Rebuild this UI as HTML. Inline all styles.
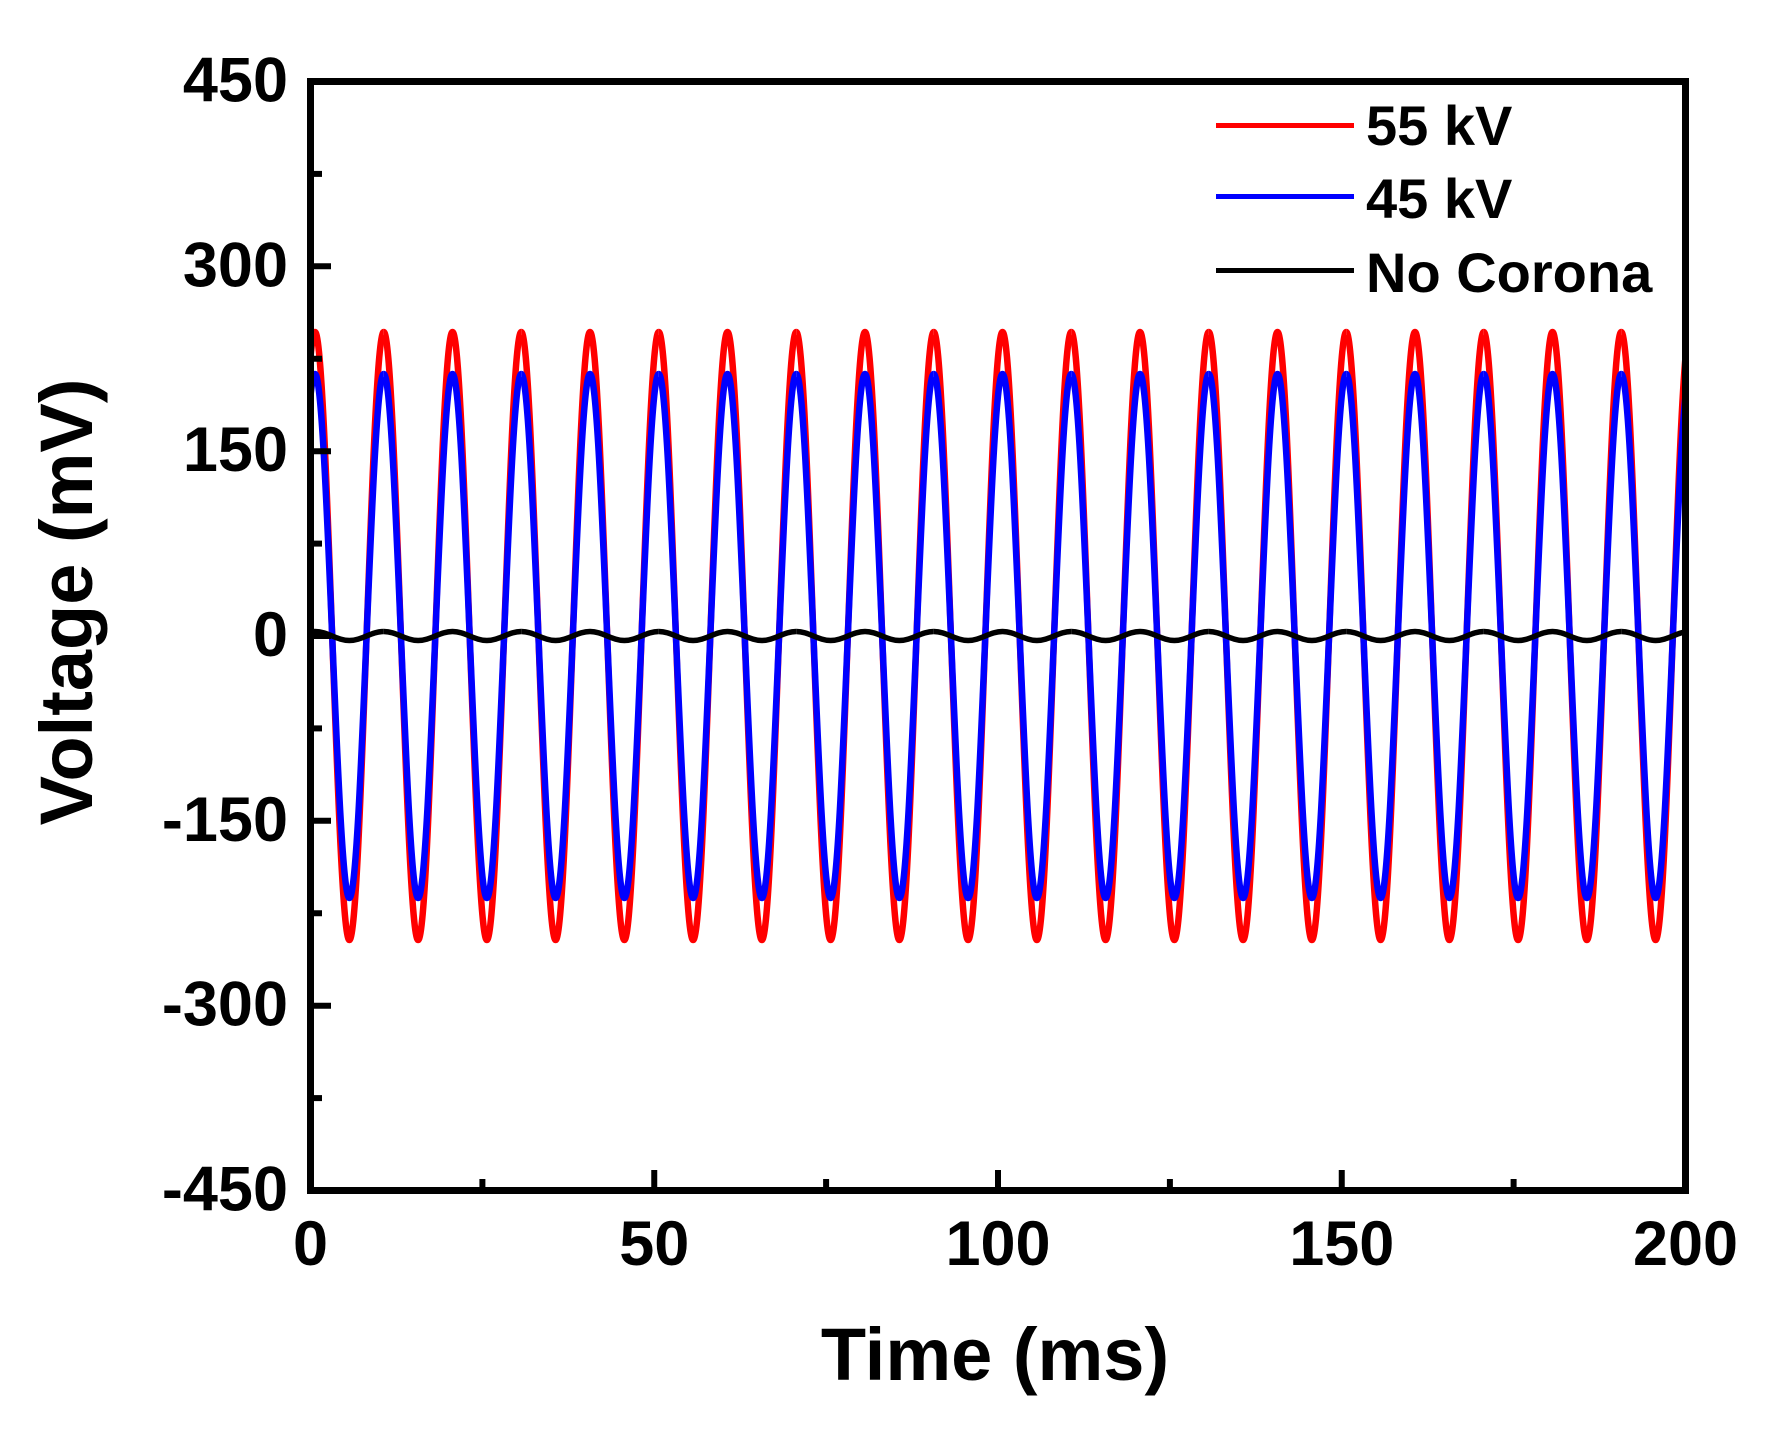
<!DOCTYPE html>
<html>
<head>
<meta charset="utf-8">
<style>
  html, body { margin: 0; padding: 0; background: #ffffff; }
  svg { display: block; }
  text { font-family: "Liberation Sans", Arial, sans-serif; font-weight: bold; fill: #000; }
</style>
</head>
<body>
<svg width="1785" height="1433" viewBox="0 0 1785 1433" xmlns="http://www.w3.org/2000/svg" xmlns:xlink="http://www.w3.org/1999/xlink">
  <rect x="0" y="0" width="1785" height="1433" fill="#ffffff"/>
  <defs>
    <clipPath id="clip">
      <rect x="310.5" y="81.5" width="1375" height="1109"/>
    </clipPath>
    <g id="p1" fill="none" stroke-linejoin="round">
      <path d="M0,332 c6.221,0 11.582,148.26 17.1875,304 c5.605,155.74 10.967,304 17.1875,304 c6.221,0 11.582,-148.26 17.1875,-304 c5.605,-155.74 10.967,-304 17.1875,-304" stroke="#ff0000" stroke-width="6.5"/>
      <path d="M0,374 c6.221,0 11.582,127.78 17.1875,262 c5.605,134.22 10.967,262 17.1875,262 c6.221,0 11.582,-127.78 17.1875,-262 c5.605,-134.22 10.967,-262 17.1875,-262" stroke="#0000ff" stroke-width="6.5"/>
      <path d="M0,631.5 c6.221,0 11.582,2.195 17.1875,4.5 c5.605,2.305 10.967,4.5 17.1875,4.5 c6.221,0 11.582,-2.195 17.1875,-4.5 c5.605,-2.305 10.967,-4.5 17.1875,-4.5" stroke="#000000" stroke-width="5.5"/>
    </g>
    <g id="p2"><use xlink:href="#p1" href="#p1"/><use xlink:href="#p1" href="#p1" x="68.75"/></g>
    <g id="p4"><use xlink:href="#p2" href="#p2"/><use xlink:href="#p2" href="#p2" x="137.5"/></g>
    <g id="p8"><use xlink:href="#p4" href="#p4"/><use xlink:href="#p4" href="#p4" x="275"/></g>
    <g id="p16"><use xlink:href="#p8" href="#p8"/><use xlink:href="#p8" href="#p8" x="550"/></g>
  </defs>

  <!-- data curves -->
  <g clip-path="url(#clip)">
    <g transform="translate(246.25,0)">
      <use xlink:href="#p16" href="#p16"/>
      <use xlink:href="#p4" href="#p4" x="1100"/>
      <use xlink:href="#p2" href="#p2" x="1375"/>
    </g>
  </g>

  <!-- frame -->
  <rect x="310.5" y="81.5" width="1375" height="1109" fill="none" stroke="#000" stroke-width="7"/>

  <!-- y ticks -->
  <g stroke="#000" stroke-width="6">
    <line x1="314" y1="266.3" x2="331" y2="266.3"/>
    <line x1="314" y1="451.2" x2="331" y2="451.2"/>
    <line x1="314" y1="636" x2="331" y2="636"/>
    <line x1="314" y1="820.8" x2="331" y2="820.8"/>
    <line x1="314" y1="1005.7" x2="331" y2="1005.7"/>
    <line x1="314" y1="173.9" x2="322" y2="173.9"/>
    <line x1="314" y1="358.75" x2="322" y2="358.75"/>
    <line x1="314" y1="543.6" x2="322" y2="543.6"/>
    <line x1="314" y1="728.4" x2="322" y2="728.4"/>
    <line x1="314" y1="913.25" x2="322" y2="913.25"/>
    <line x1="314" y1="1098.1" x2="322" y2="1098.1"/>
  </g>
  <!-- x ticks -->
  <g stroke="#000" stroke-width="6">
    <line x1="654.25" y1="1187" x2="654.25" y2="1170"/>
    <line x1="998" y1="1187" x2="998" y2="1170"/>
    <line x1="1341.75" y1="1187" x2="1341.75" y2="1170"/>
    <line x1="482.4" y1="1187" x2="482.4" y2="1179"/>
    <line x1="826.1" y1="1187" x2="826.1" y2="1179"/>
    <line x1="1169.9" y1="1187" x2="1169.9" y2="1179"/>
    <line x1="1513.6" y1="1187" x2="1513.6" y2="1179"/>
  </g>

  <!-- y tick labels -->
  <g font-size="63" text-anchor="end">
    <text x="288" y="101.5">450</text>
    <text x="288" y="286.3">300</text>
    <text x="288" y="471.2">150</text>
    <text x="288" y="656">0</text>
    <text x="288" y="840.8">-150</text>
    <text x="288" y="1025.7">-300</text>
    <text x="288" y="1210.5">-450</text>
  </g>
  <!-- x tick labels -->
  <g font-size="63" text-anchor="middle">
    <text x="310.5" y="1265">0</text>
    <text x="654.25" y="1265">50</text>
    <text x="998" y="1265">100</text>
    <text x="1341.75" y="1265">150</text>
    <text x="1685.5" y="1265">200</text>
  </g>

  <!-- axis titles -->
  <text x="995" y="1380" font-size="74" text-anchor="middle">Time (ms)</text>
  <text transform="translate(92,602) rotate(-90)" font-size="74" text-anchor="middle">Voltage (mV)</text>

  <!-- legend -->
  <g stroke-width="5">
    <line x1="1216" y1="125.5" x2="1354" y2="125.5" stroke="#ff0000"/>
    <line x1="1216" y1="196.5" x2="1354" y2="196.5" stroke="#0000ff"/>
    <line x1="1216" y1="270.5" x2="1354" y2="270.5" stroke="#000000"/>
  </g>
  <g font-size="56">
    <text x="1366" y="145">55 kV</text>
    <text x="1366" y="218">45 kV</text>
    <text x="1366" y="292">No Corona</text>
  </g>
</svg>
</body>
</html>
